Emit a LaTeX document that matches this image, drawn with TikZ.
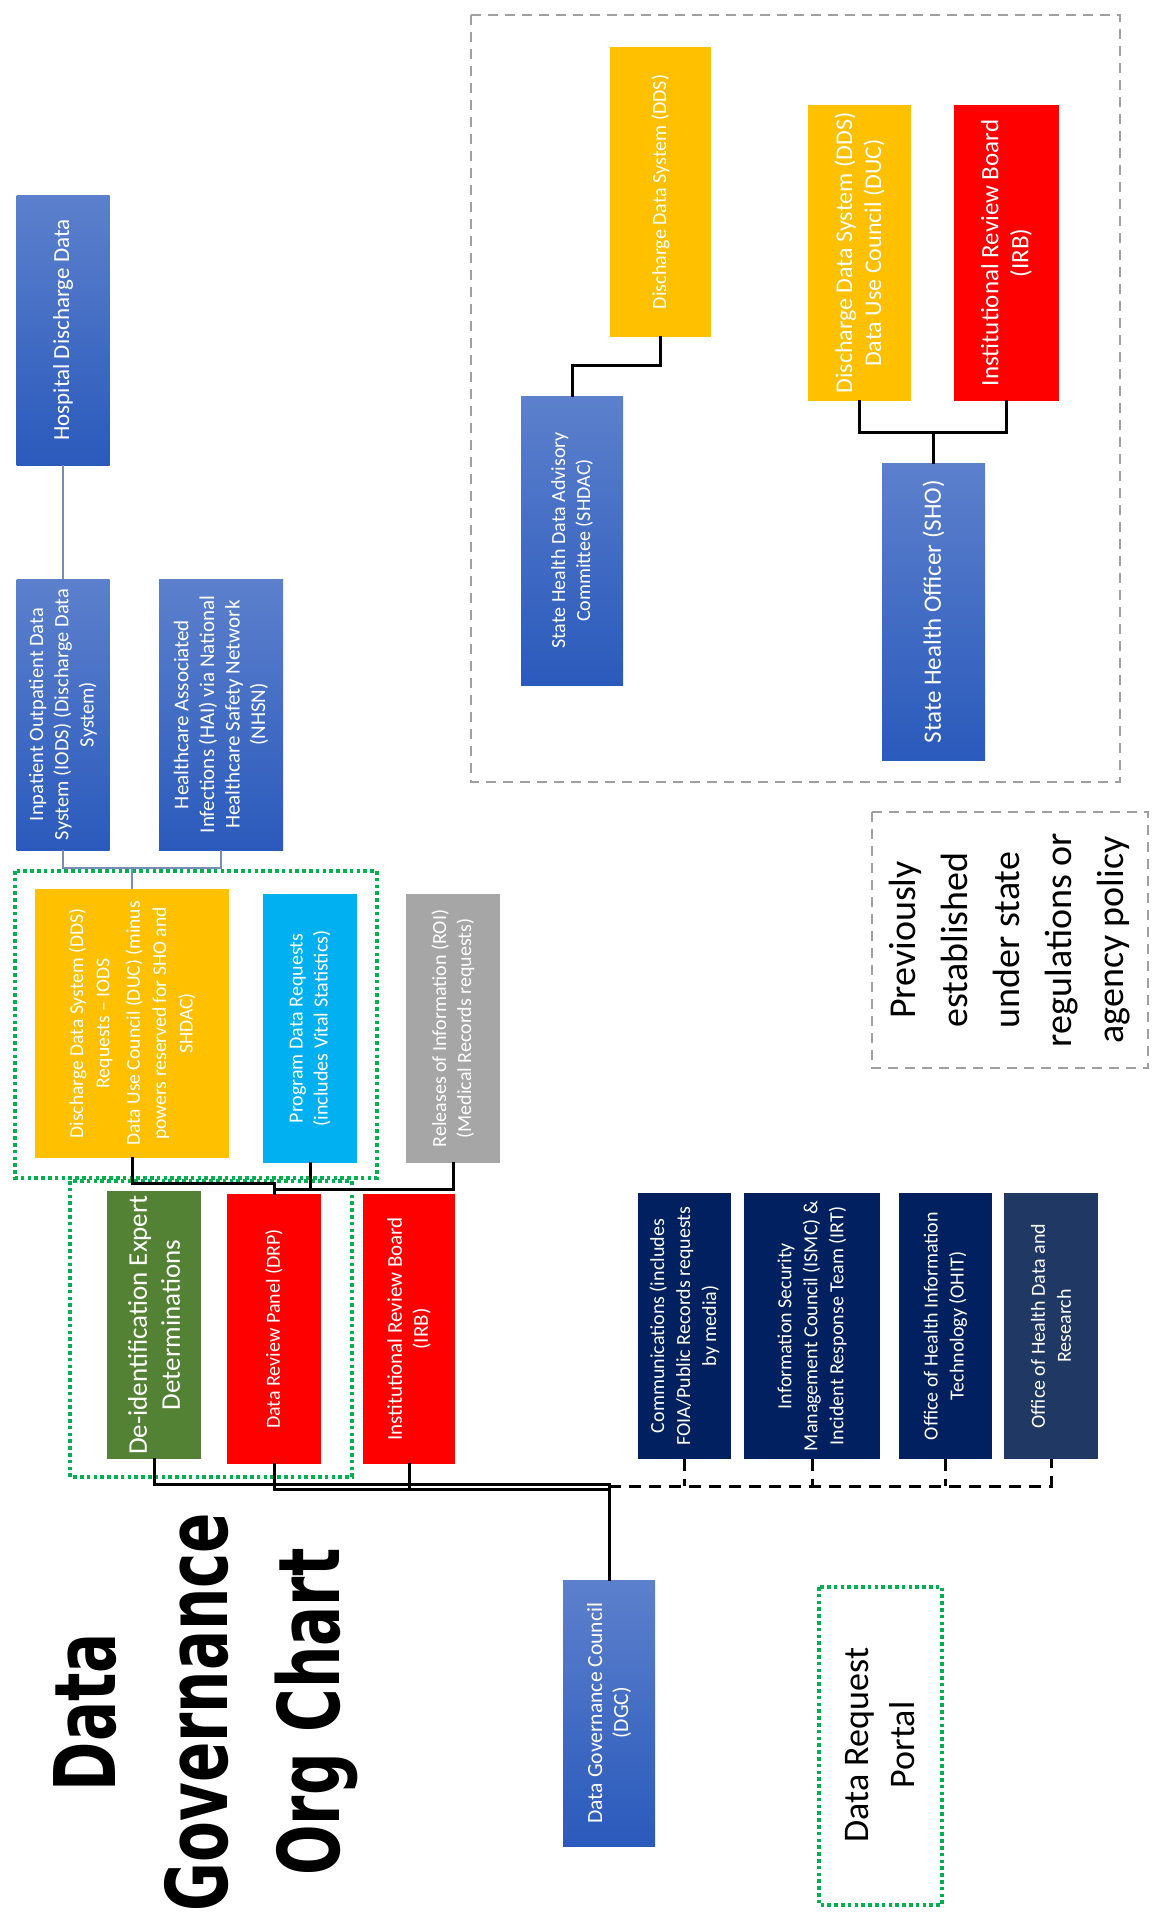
\documentclass[tikz,border=0pt]{standalone}
\usepackage{fontspec}
\setmainfont{Carlito}
\newfontfamily\titlefont[FakeStretch=0.70]{DejaVu Sans}
\usetikzlibrary{calc}
\definecolor{blueL}{RGB}{92,128,204}
\definecolor{blueR}{RGB}{42,90,188}
\definecolor{ddsyellow}{RGB}{255,192,0}
\definecolor{progblue}{RGB}{0,176,240}
\definecolor{roigray}{RGB}{166,166,166}
\definecolor{deidgreen}{RGB}{84,130,53}
\definecolor{redbox}{RGB}{255,0,0}
\definecolor{navy}{RGB}{0,32,96}
\definecolor{navyb}{RGB}{31,56,100}
\definecolor{dotgreen}{RGB}{0,176,80}
\definecolor{dashgray}{RGB}{160,160,160}
\definecolor{thinblue}{RGB}{120,140,180}
\begin{document}
\begin{tikzpicture}[x=0.5pt,y=-0.5pt,
  box/.style={rotate=90, inner sep=1pt, align=center, text=white},
  fs/.style 2 args={font=\fontsize{#1}{#2}\selectfont},
  gradbox/.style={box, top color=blueL, bottom color=blueR},
  ybox/.style={box, fill=ddsyellow},
  rbox/.style={box, fill=redbox},
  nbox/.style={box, fill=navy},
  conn/.style={line width=1.5pt, black, line cap=rect},
  thinconn/.style={line width=0.6pt, thinblue},
  dconn/.style={line width=1.5pt, black, dash pattern=on 6pt off 4pt},
  dotframe/.style={draw=dotgreen, line width=1.8pt, dash pattern=on 1.8pt off 1.6pt},
  grayframe/.style={draw=dashgray, line width=1pt, dash pattern=on 5pt off 3.5pt}]
\path[use as bounding box, fill=white] (0,0) rectangle (1152,1913);

% frames
\draw[grayframe] (471,15) rectangle (1120,782);
\draw[grayframe] (872,812) rectangle (1148,1068);
\draw[dotframe] (15,871) rectangle (377,1178);
\draw[dotframe] (70,1181) rectangle (352,1477);
\draw[dotframe] (819,1587) rectangle (942,1905);

% title
\node[rotate=90, align=center, font=\titlefont\bfseries\fontsize{42.5}{56}\selectfont] (title) at (206,1712) {Data\\Governance\\Org Chart};

% top sources
\node[gradbox, minimum width=135pt, minimum height=46.5pt, fs={11.5}{14}] (hosp) at (63,330) {Hospital Discharge Data};
\node[gradbox, minimum width=135.5pt, minimum height=46.5pt, fs={10.2}{12.6}] (iods) at (63,714.5) {Inpatient Outpatient Data\\System (IODS) (Discharge Data\\System)};
\node[gradbox, minimum width=135.5pt, minimum height=62pt, fs={10.5}{12.8}] (hai) at (221,714.5) {Healthcare Associated\\Infections (HAI) via National\\Healthcare Safety Network\\(NHSN)};

% request types
\node[ybox, minimum width=134.5pt, minimum height=97pt, fs={9.8}{13.2}] (ddsiods) at (132,1023.5) {Discharge Data System (DDS)\\Requests -- IODS\\[2pt]Data Use Council (DUC) (minus\\powers reserved for SHO and\\SHDAC)};
\node[box, fill=progblue, minimum width=134.5pt, minimum height=47pt, fs={10}{12.5}] (prog) at (310,1028.5) {Program Data Requests\\(includes Vital Statistics)};
\node[box, fill=roigray, minimum width=134.5pt, minimum height=47pt, fs={10}{12.5}] (roi) at (453,1028.5) {Releases of Information (ROI)\\(Medical Records requests)};

% review bodies
\node[box, fill=deidgreen, minimum width=134pt, minimum height=47pt, fs={13.5}{16.5}] (deid) at (154,1325) {De-identification Expert\\Determinations};
\node[rbox, minimum width=135pt, minimum height=47pt, fs={10}{12.5}] (drp) at (274,1329) {Data Review Panel (DRP)};
\node[rbox, minimum width=135pt, minimum height=46pt, fs={10.5}{13}] (irb) at (409,1329) {Institutional Review Board\\(IRB)};

% offices
\node[nbox, minimum width=133pt, minimum height=46.5pt, fs={10}{13}] (comm) at (684.5,1326) {Communications (includes\\FOIA/Public Records requests\\by media)};
\node[nbox, minimum width=133pt, minimum height=68pt, fs={10}{13}] (ismc) at (812,1326) {Information Security\\Management Council (ISMC) \&\\Incident Response Team (IRT)};
\node[nbox, minimum width=133pt, minimum height=46.5pt, fs={10}{13}] (ohit) at (945.5,1326) {Office of Health Information\\Technology (OHIT)};
\node[box, fill=navyb, minimum width=133pt, minimum height=47pt, fs={10}{13}] (ohdr) at (1051,1326) {Office of Health Data and\\Research};

% council
\node[gradbox, minimum width=133pt, minimum height=46pt, fs={10.8}{13}] (dgc) at (609,1713) {Data Governance Council\\(DGC)};

% portal and legend
\node[rotate=90, align=center, fs={18}{23}] (portal) at (880,1745) {Data Request\\Portal};
\node[rotate=90, align=center, fs={19}{26}] (legend) at (1010,940) {Previously\\established\\under state\\regulations or\\agency policy};

% previously established
\node[ybox, minimum width=145pt, minimum height=50.5pt, fs={10}{12.5}] (dds) at (660.5,192) {Discharge Data System (DDS)};
\node[gradbox, minimum width=144.5pt, minimum height=51pt, fs={10}{12.5}] (shdac) at (572,540.5) {State Health Data Advisory\\Committee (SHDAC)};
\node[ybox, minimum width=148pt, minimum height=51.5pt, fs={12}{14.5}] (ddsduc) at (859.5,253) {Discharge Data System (DDS)\\Data Use Council (DUC)};
\node[rbox, minimum width=148pt, minimum height=52.5pt, fs={12.5}{15}] (irb2) at (1006.5,253) {Institutional Review Board\\(IRB)};
\node[gradbox, minimum width=148.5pt, minimum height=51.5pt, fs={12.5}{15}] (sho) at (933.5,611.5) {State Health Officer (SHO)};

% connectors
\coordinate (jt) at (132,868);
\draw[thinconn] (hosp.west) -- (iods.east);
\draw[thinconn] (iods.west) |- (jt) -| (hai.west);
\draw[thinconn] (jt) -- (ddsiods.east);

\coordinate (j2) at (274,1183);
\coordinate (j3) at (274,1189);
\draw[conn] (ddsiods.west) |- (j2) -- (drp.east);
\draw[conn] (prog.west) |- (j3);
\draw[conn] (roi.west) |- (j3);

\coordinate (jb1) at (609,1484);
\coordinate (jb2) at (609,1489);
\draw[conn] (deid.west) |- (jb1);
\draw[conn] (drp.west) |- (jb2);
\draw[conn] (irb.west) -- (irb.west |- jb2);
\draw[conn] (jb1) -- (dgc.east);

\coordinate (jd) at (609,1486);
\draw[dconn] (jd) -| (ohdr.west);
\draw[dconn] (comm.west) -- (comm.west |- jd);
\draw[dconn] (ismc.west) -- (ismc.west |- jd);
\draw[dconn] (ohit.west) -- (ohit.west |- jd);

\coordinate (j4) at (660.5,365);
\draw[conn] (dds.west) -- (j4) -| (shdac.east);
\coordinate (j5) at (933.5,432);
\draw[conn] (ddsduc.west) |- (j5) -| (irb2.west);
\draw[conn] (j5) -- (sho.east);
\end{tikzpicture}
\end{document}
